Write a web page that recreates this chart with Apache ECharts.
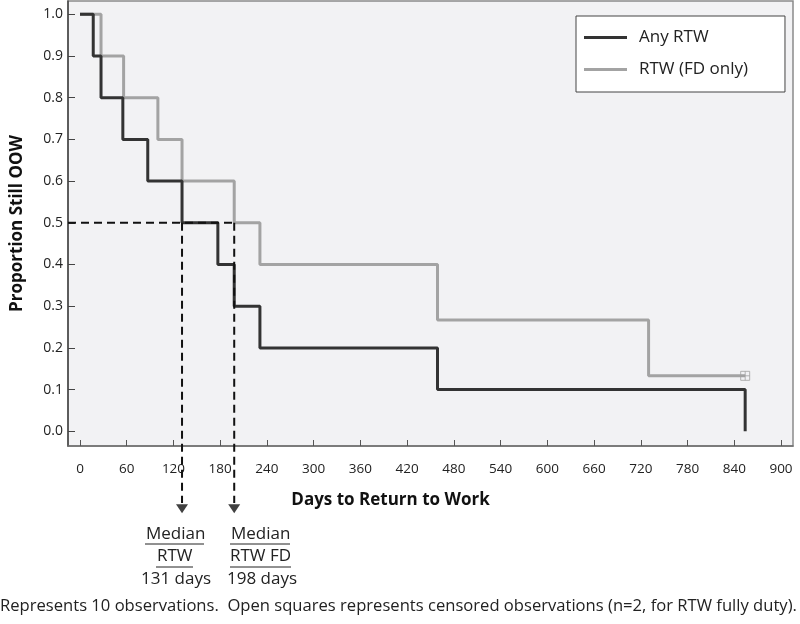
<!DOCTYPE html>
<html>
<head>
<meta charset="utf-8">
<script src="https://cdn.jsdelivr.net/npm/echarts@6/dist/echarts.min.js"></script>
<style>html,body{margin:0;padding:0;background:#fff}#c{width:800px;height:624px}</style>
</head>
<body>
<div id="c"></div>
<script>
// ---- data ----
var anyDays  = [0, 17, 27, 55, 87, 131, 177, 198, 231, 459, 854];
var anyProp  = [1.0, 0.9, 0.8, 0.7, 0.6, 0.5, 0.4, 0.3, 0.2, 0.1, 0.0];
var fdDays   = [0, 27, 56, 100, 131, 198, 231, 459, 730, 854];
var fdProp   = [1.0, 0.9, 0.8, 0.7, 0.6, 0.5, 0.4, 0.267, 0.133, 0.133];
var censoredDays = [854];
var censoredProp = [0.133];
var medianDays = [131, 198];
var medianLevel = 0.5;
var xTicks = [0, 60, 120, 180, 240, 300, 360, 420, 480, 540, 600, 660, 720, 780, 840, 900];
var yTicks = [0.0, 0.1, 0.2, 0.3, 0.4, 0.5, 0.6, 0.7, 0.8, 0.9, 1.0];
var seriesNames = ['Any RTW', 'RTW (FD only)'];

function pairs(xs, ys) { return xs.map(function (x, i) { return [x, ys[i]]; }); }

var X_MIN = -15.4, X_MAX = 915.4, Y_MIN = -0.0353, Y_MAX = 1.0319;
var ARROW_Y = -0.186, DASH_END = -0.172;
var FONT = '"Open Sans", "DejaVu Sans", sans-serif';

var chart = echarts.init(document.getElementById('c'));
var dashStyle = { color: '#111', width: 2, type: [8, 5] };

chart.setOption({
  animation: false,
  backgroundColor: '#fff',
  grid: { left: 68, top: 1, width: 725, height: 445, show: true, containLabel: false,
          outerBoundsMode: 'none',
          backgroundColor: '#f2f2f4', borderColor: '#8a8a8a', borderWidth: 1.5 },
  xAxis: {
    type: 'value', min: X_MIN, max: X_MAX,
    splitLine: { show: false },
    axisLine: { show: true, onZero: false, lineStyle: { color: '#6e6e6e', width: 1.5 } },
    axisTick: { show: true, inside: true, length: 6, customValues: xTicks,
                lineStyle: { color: '#555', width: 1 } },
    axisLabel: { customValues: xTicks, margin: 16, color: '#222', fontSize: 13.5, fontFamily: FONT },
    name: 'Days to Return to Work', nameLocation: 'middle', nameGap: 46,
    nameTextStyle: { fontWeight: 'bold', fontSize: 17, color: '#111', fontFamily: FONT,
                     padding: [0, 80, 0, 0] }
  },
  yAxis: {
    type: 'value', min: Y_MIN, max: Y_MAX,
    splitLine: { show: false },
    axisLine: { show: true, onZero: false, lineStyle: { color: '#444', width: 1.5 } },
    axisTick: { show: true, inside: true, length: 7, customValues: yTicks,
                lineStyle: { color: '#444', width: 1 } },
    axisLabel: { customValues: yTicks, margin: 5, color: '#222', fontSize: 14, fontFamily: FONT,
                 formatter: function (v) { return v.toFixed(1); } },
    name: 'Proportion Still OOW', nameLocation: 'middle', nameGap: 42, nameRotate: 90,
    nameTextStyle: { fontWeight: 'bold', fontSize: 17, color: '#111', fontFamily: FONT }
  },
  legend: {
    left: 576, top: 16, orient: 'vertical',
    data: [{ name: seriesNames[0], icon: 'rect' }, { name: seriesNames[1], icon: 'rect' }],
    itemWidth: 43, itemHeight: 3, itemGap: 15,
    padding: [13, 37, 14, 8],
    backgroundColor: '#fff', borderColor: '#444', borderWidth: 1, borderRadius: 0,
    textStyle: { fontSize: 17, color: '#222', fontFamily: FONT, padding: [0, 0, 0, 7] }
  },
  series: [
    { name: seriesNames[1], type: 'line', step: 'end', data: pairs(fdDays, fdProp),
      symbol: 'none', color: '#a3a3a3', lineStyle: { color: '#a3a3a3', width: 3 }, z: 2 },
    { name: seriesNames[0], type: 'line', step: 'end', data: pairs(anyDays, anyProp),
      symbol: 'none', color: '#333', lineStyle: { color: '#333', width: 3 }, z: 3 },
    { name: 'censored', type: 'scatter', data: pairs(censoredDays, censoredProp),
      symbol: 'path://M0,0H10V10H0Z M5,0V10 M0,5H10', symbolSize: 9,
      itemStyle: { color: 'none', borderColor: '#a0a0a0', borderWidth: 1 }, z: 4 },
    { name: 'medianH', type: 'line', data: [[X_MIN, medianLevel], [medianDays[1], medianLevel]],
      symbol: 'none', lineStyle: dashStyle, z: 5, clip: false, silent: true },
    { name: 'median1', type: 'line', data: [[medianDays[0], medianLevel], [medianDays[0], DASH_END]],
      symbol: 'none', lineStyle: dashStyle, z: 5, clip: false, silent: true },
    { name: 'median2', type: 'line', data: [[medianDays[1], medianLevel], [medianDays[1], DASH_END]],
      symbol: 'none', lineStyle: dashStyle, z: 5, clip: false, silent: true },
    { name: 'arrows', type: 'scatter', data: medianDays.map(function (d) { return [d, ARROW_Y]; }),
      symbol: 'triangle', symbolRotate: 180, symbolSize: [12, 9], clip: false, silent: true,
      itemStyle: { color: '#111' }, z: 6 }
  ],
  graphic: [
    { type: 'text', left: 146, top: 526, style: { text: 'Median', font: '17px ' + FONT, fill: '#222' } },
    { type: 'line', shape: { x1: 145, y1: 544, x2: 204, y2: 544 }, style: { stroke: '#222', lineWidth: 1 } },
    { type: 'text', left: 157, top: 548, style: { text: 'RTW', font: '17px ' + FONT, fill: '#222' } },
    { type: 'line', shape: { x1: 156, y1: 567, x2: 193, y2: 567 }, style: { stroke: '#222', lineWidth: 1 } },
    { type: 'text', left: 141, top: 571, style: { text: '131 days', font: '17px ' + FONT, fill: '#222' } },

    { type: 'text', left: 231, top: 526, style: { text: 'Median', font: '17px ' + FONT, fill: '#222' } },
    { type: 'line', shape: { x1: 230, y1: 544, x2: 290, y2: 544 }, style: { stroke: '#222', lineWidth: 1 } },
    { type: 'text', left: 230, top: 548, style: { text: 'RTW FD', font: '17px ' + FONT, fill: '#222' } },
    { type: 'line', shape: { x1: 230, y1: 567, x2: 291, y2: 567 }, style: { stroke: '#222', lineWidth: 1 } },
    { type: 'text', left: 227, top: 571, style: { text: '198 days', font: '17px ' + FONT, fill: '#222' } },

    { type: 'text', left: 0, top: 598,
      style: { text: 'Represents 10 observations.  Open squares represents censored observations (n=2, for RTW fully duty).',
               font: '16.6px ' + FONT, fill: '#222' } }
  ]
});
</script>
</body>
</html>
